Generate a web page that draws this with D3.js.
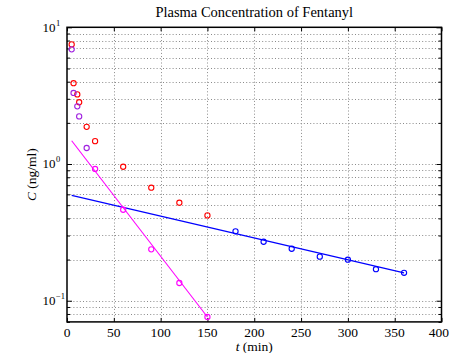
<!DOCTYPE html>
<html>
<head>
<meta charset="utf-8">
<script src="https://cdn.jsdelivr.net/npm/d3@7"></script>
<style>
  body { margin: 0; background: #fff; }
  svg { display: block; }
  text { font-family: "Liberation Serif", "DejaVu Serif", serif; fill: #000; }
</style>
</head>
<body>
<script>
// Measured plasma concentrations (ng/ml) against time (min)
const measuredTime = [5, 7, 11, 13, 21, 30, 60, 90, 120, 150];
const measuredConc = [7.5, 3.9, 3.23, 2.83, 1.87, 1.47, 0.955, 0.671, 0.521, 0.421];

// Terminal (slow) phase samples
const lateTime = [180, 210, 240, 270, 300, 330, 360];
const lateConc = [0.322, 0.270, 0.240, 0.210, 0.1995, 0.170, 0.160];

// Residuals: measured minus back-extrapolated slow phase
const residualEarlyTime = [5, 7, 11, 13, 21];
const residualEarlyConc = [6.9, 3.31, 2.64, 2.23, 1.31];
const residualTime = [30, 60, 90, 120, 150];
const residualConc = [0.92, 0.463, 0.2376, 0.1348, 0.076];

// Fitted exponential lines (end points)
const slowFitTime = [5, 360];
const slowFitConc = [0.59, 0.160];
const fastFitTime = [5, 150];
const fastFitConc = [1.48, 0.076];

// Axis ticks
const xTickValues = [0, 50, 100, 150, 200, 250, 300, 350, 400];
const yDecadeExponents = [-1, 0, 1];
const yDecadeLabels = ["\u22121", "0", "1"];

const W = 450, H = 353;
const plotLeft = 67, plotRight = 441.5, plotTop = 27.3, plotBottom = 321.9;

const svg = d3.select("body").append("svg")
  .attr("width", W).attr("height", H);

const x = d3.scaleLinear().domain([0, 400]).range([plotLeft, plotRight]);
const y = d3.scaleLog().domain([0.07, 10]).range([plotBottom, plotTop]);

const zip = (a, b) => a.map((v, i) => [v, b[i]]);

// Dotted grid
const grid = svg.append("g")
  .attr("stroke", "#8a8a8a")
  .attr("stroke-width", 1)
  .attr("stroke-dasharray", "1,2.2")
  .attr("fill", "none");

grid.selectAll("line.gx")
  .data(xTickValues.filter(v => v > 0 && v < 400))
  .join("line")
  .attr("x1", d => Math.round(x(d)) + 0.5).attr("x2", d => Math.round(x(d)) + 0.5)
  .attr("y1", plotTop).attr("y2", plotBottom);

const yGridValues = y.ticks().filter(v => v > 0.0701 && v < 9.99);
grid.selectAll("line.gy")
  .data(yGridValues)
  .join("line")
  .attr("y1", d => Math.round(y(d)) + 0.5).attr("y2", d => Math.round(y(d)) + 0.5)
  .attr("x1", plotLeft).attr("x2", plotRight);

// Axes with inward ticks
const isMajor = v => Math.abs(Math.log10(v) - Math.round(Math.log10(v))) < 1e-6;
const yMinor = y.ticks().filter(v => !isMajor(v));
const yMajor = yDecadeExponents.map(e => Math.pow(10, e));

function styleAxis(g) {
  g.select(".domain").remove();
  g.selectAll(".tick line").attr("stroke", "#000").attr("stroke-width", 1);
  g.selectAll(".tick text").remove();
}

svg.append("g").attr("transform", `translate(0,${plotBottom})`)
  .call(d3.axisBottom(x).tickValues(xTickValues).tickSizeInner(-4).tickSizeOuter(0))
  .call(styleAxis);
svg.append("g").attr("transform", `translate(0,${plotTop})`)
  .call(d3.axisTop(x).tickValues(xTickValues).tickSizeInner(-4).tickSizeOuter(0))
  .call(styleAxis);
svg.append("g").attr("transform", `translate(${plotLeft},0)`)
  .call(d3.axisLeft(y).tickValues(yMinor).tickSizeInner(-3).tickSizeOuter(0))
  .call(styleAxis);
svg.append("g").attr("transform", `translate(${plotLeft},0)`)
  .call(d3.axisLeft(y).tickValues(yMajor).tickSizeInner(-5).tickSizeOuter(0))
  .call(styleAxis);
svg.append("g").attr("transform", `translate(${plotRight},0)`)
  .call(d3.axisRight(y).tickValues(yMinor).tickSizeInner(-3).tickSizeOuter(0))
  .call(styleAxis);
svg.append("g").attr("transform", `translate(${plotRight},0)`)
  .call(d3.axisRight(y).tickValues(yMajor).tickSizeInner(-5).tickSizeOuter(0))
  .call(styleAxis);

// Frame
svg.append("rect")
  .attr("x", plotLeft).attr("y", plotTop)
  .attr("width", plotRight - plotLeft).attr("height", plotBottom - plotTop)
  .attr("fill", "none").attr("stroke", "#000").attr("stroke-width", 1.5);

// X tick labels (kept inside the canvas at the right edge)
svg.append("g").selectAll("text")
  .data(xTickValues)
  .join("text")
  .attr("x", d => x(d)).attr("y", 337)
  .attr("text-anchor", "middle")
  .attr("font-size", 13.5)
  .text(d => d)
  .each(function () {
    const half = this.getComputedTextLength() / 2;
    const cx = +this.getAttribute("x");
    if (cx + half > W - 1) this.setAttribute("x", W - 1 - half);
  });

// Y tick labels: 10 with exponent
const yl = svg.append("g").selectAll("text")
  .data(yDecadeExponents)
  .join("text")
  .attr("x", 42.5)
  .attr("y", d => y(Math.pow(10, d)) + 4.3)
  .attr("font-size", 13);
yl.append("tspan").text("10");
yl.append("tspan")
  .attr("dy", -6).attr("dx", 0.5)
  .attr("font-size", 8.5)
  .text((d, i) => yDecadeLabels[i]);

// Lines
const line = d3.line().x(d => x(d[0])).y(d => y(d[1]));
svg.append("path")
  .attr("d", line(zip(slowFitTime, slowFitConc)))
  .attr("fill", "none").attr("stroke", "#0000ff").attr("stroke-width", 1.2);
svg.append("path")
  .attr("d", line(zip(fastFitTime, fastFitConc)))
  .attr("fill", "none").attr("stroke", "#ff00ff").attr("stroke-width", 1.1);

// Markers
function circles(data, color) {
  svg.append("g").selectAll("circle")
    .data(data)
    .join("circle")
    .attr("cx", d => x(d[0])).attr("cy", d => y(d[1]))
    .attr("r", 2.6)
    .attr("fill", "none").attr("stroke", color).attr("stroke-width", 1.1);
}
circles(zip(measuredTime, measuredConc), "#ff0000");
circles(zip(residualEarlyTime, residualEarlyConc), "#a020e0");
circles(zip(residualTime, residualConc), "#ff00ff");
circles(zip(lateTime, lateConc), "#0000ff");

// Title and axis labels
svg.append("text")
  .attr("x", (plotLeft + plotRight) / 2).attr("y", 17)
  .attr("text-anchor", "middle")
  .attr("font-size", 14.5)
  .text("Plasma Concentration of Fentanyl");

const xl = svg.append("text")
  .attr("x", (plotLeft + plotRight) / 2).attr("y", 350.5)
  .attr("text-anchor", "middle")
  .attr("font-size", 13.5);
xl.append("tspan").attr("font-style", "italic").text("t");
xl.append("tspan").text(" (min)");

const ylab = svg.append("text")
  .attr("transform", `translate(35.5,${(plotTop + plotBottom) / 2}) rotate(-90)`)
  .attr("text-anchor", "middle")
  .attr("font-size", 13.5);
ylab.append("tspan").attr("font-style", "italic").text("C");
ylab.append("tspan").text(" (ng/ml)");
</script>
</body>
</html>
